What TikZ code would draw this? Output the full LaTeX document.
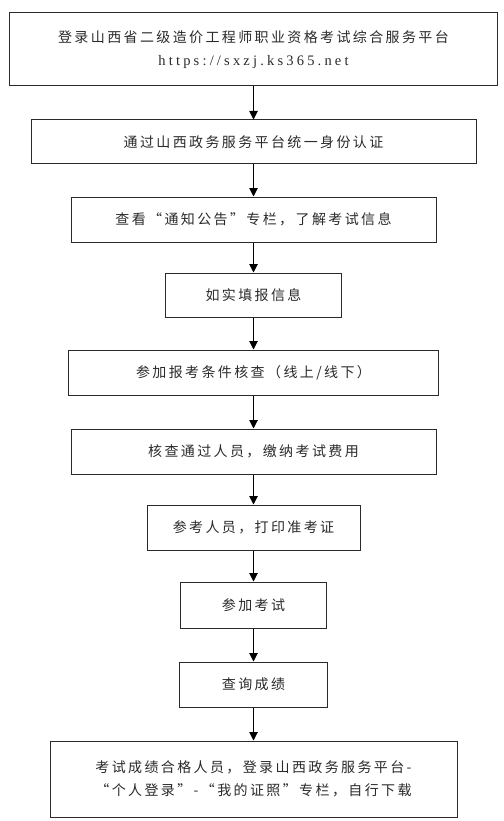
\documentclass[tikz,border=0pt]{standalone}
\usepackage{fontspec}
\setmainfont{Noto Sans CJK SC}
\newfontfamily\cjkfont[LetterSpace=17]{Noto Sans CJK SC}
\newfontfamily\urlfont[LetterSpace=22]{Liberation Serif}
\usetikzlibrary{arrows.meta}
\definecolor{ink}{HTML}{2A2A2A}
\tikzset{
  stepbox/.style={draw=ink, line width=1pt, rectangle, inner sep=0pt, align=center,
    font=\fontsize{14pt}{23.5pt}\selectfont\cjkfont, text=ink},
  flowarrow/.style={draw=black, line width=1pt, -{Triangle[length=8.5pt,width=8.5pt]}}
}
\begin{document}
\begin{tikzpicture}[x=1pt,y=-1pt]
\useasboundingbox[fill=white] (0,0) rectangle (503,821);
\node[stepbox, minimum width=488pt, minimum height=73pt] (b1) at (253.5,49.5)
  {登录山西省二级造价工程师职业资格考试综合服务平台\\{\urlfont\fontsize{14.5pt}{23.5pt}\selectfont https://sxzj.ks365.net}};
\node[stepbox, minimum width=445pt, minimum height=44pt] (b2) at (253.5,142) {通过山西政务服务平台统一身份认证};
\node[stepbox, minimum width=365pt, minimum height=45pt] (b3) at (253.5,219.5) {查看“通知公告”专栏，了解考试信息};
\node[stepbox, minimum width=176pt, minimum height=44pt] (b4) at (253.5,295) {如实填报信息};
\node[stepbox, minimum width=370pt, minimum height=45pt] (b5) at (253.5,372.5) {参加报考条件核查（线上/线下）};
\node[stepbox, minimum width=365pt, minimum height=45pt] (b6) at (253.5,451.5) {核查通过人员，缴纳考试费用};
\node[stepbox, minimum width=213pt, minimum height=45pt] (b7) at (253.5,527.5) {参考人员，打印准考证};
\node[stepbox, minimum width=146pt, minimum height=46pt] (b8) at (253.5,605) {参加考试};
\node[stepbox, minimum width=148pt, minimum height=45pt] (b9) at (253.5,684.5) {查询成绩};
\node[stepbox, minimum width=407pt, minimum height=76pt] (b10) at (253.5,779)
  {考试成绩合格人员，登录山西政务服务平台-\\“个人登录”-“我的证照”专栏，自行下载};
\foreach \a/\b in {b1/b2,b2/b3,b3/b4,b4/b5,b5/b6,b6/b7,b7/b8,b8/b9,b9/b10}
  \draw[flowarrow] (\a.south) -- (\b.north);
\end{tikzpicture}
\end{document}
